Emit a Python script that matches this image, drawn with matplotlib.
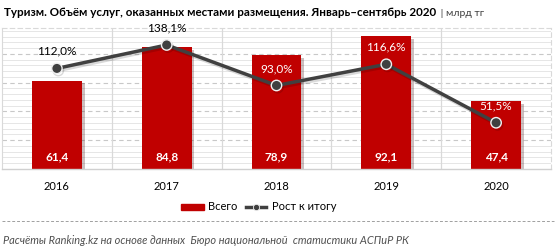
import matplotlib.pyplot as plt
import matplotlib.patheffects as pe
import numpy as np

years = ["2016", "2017", "2018", "2019", "2020"]
total = [61.4, 84.8, 78.9, 92.1, 47.4]
growth = [112.0, 138.1, 93.0, 116.6, 51.5]
growth_label_color = ["black", "black", "white", "white", "white"]

title_main = "Туризм. Объём услуг, оказанных местами размещения. Январь–сентябрь 2020"
title_unit = " | млрд тг"
source_note = "Расчёты Ranking.kz на основе данных  Бюро национальной  статистики АСПиР РК"


def fmt(v):
    return ("%.1f" % v).replace(".", ",")


def main():
    plt.rcParams['font.family'] = ['Lato', 'DejaVu Sans']
    fig = plt.figure(figsize=(5.56, 2.53), dpi=100)

    ax = fig.add_axes([2 / 556, 1 - 170 / 253, 549 / 556, 141 / 253])
    x = np.arange(len(years))

    red = "#c00000"
    dark = "#404040"

    # grid
    ax.set_ylim(0, 98)
    ax.set_xlim(-0.5, len(years) - 0.5)
    for yv in np.arange(4, 98, 4):
        if yv % 20 == 0:
            ax.axhline(yv, color="#c8c8c8", lw=0.8, ls=(0, (4, 3)), zorder=0)
        else:
            ax.axhline(yv, color="#e6e6e6", lw=0.7, zorder=0)
    for xv in np.arange(0.5, len(years) - 0.5, 1):
        ax.axvline(xv, color="#d9d9d9", lw=0.9, zorder=0)

    bars = ax.bar(x, total, width=0.455, color=red, zorder=2)
    for b in bars:
        b.set_path_effects([pe.SimplePatchShadow(offset=(2, -2), alpha=0.25), pe.Normal()])
    for i, v in enumerate(total):
        ax.text(x[i], 9, fmt(v), ha="center", va="center", color="white",
                fontsize=8.5, fontweight="bold", zorder=5)

    for s in ["top", "right", "left"]:
        ax.spines[s].set_color("#d9d9d9")
        ax.spines[s].set_linestyle((0, (4, 3)))
        ax.spines[s].set_linewidth(0.8)
    ax.spines["left"].set_linestyle("-")
    ax.spines["bottom"].set_color("#d0d0d0")
    ax.spines["bottom"].set_linewidth(1)
    ax.set_yticks([])
    ax.set_xticks(x)
    ax.set_xticklabels(years, fontsize=8)
    ax.tick_params(axis="x", length=0, pad=8)

    ax2 = ax.twinx()
    ax2.set_ylim(0, 157)
    ax2.set_yticks([])
    for s in ax2.spines.values():
        s.set_visible(False)
    ax2.plot(x, growth, color=dark, lw=2.5, marker="o", ms=7.5,
             markerfacecolor=dark, markeredgecolor="#f0f0f0", markeredgewidth=1,
             zorder=3,
             path_effects=[pe.SimpleLineShadow(offset=(1, -1.5), alpha=0.15), pe.Normal()])
    for i, v in enumerate(growth):
        ax2.annotate(fmt(v) + "%", (x[i], v), xytext=(0, 13), textcoords="offset points",
                     ha="center", va="center", fontsize=8.5,
                     color=growth_label_color[i], zorder=6)

    # legend
    fig.patches.append(plt.Rectangle((181 / 556, 1 - 211 / 253), 23 / 556, 6 / 253,
                                     transform=fig.transFigure, color=red))
    fig.text(208 / 556, 1 - 207 / 253, "Всего", fontsize=8, va="center", ha="left")
    fig.add_artist(plt.Line2D([246 / 556, 266 / 556], [1 - 208 / 253, 1 - 208 / 253],
                              transform=fig.transFigure, color=dark, lw=2.5))
    fig.add_artist(plt.Line2D([256 / 556], [1 - 208 / 253], transform=fig.transFigure,
                              color=dark, marker="o", ms=4.5, ls="none",
                              markeredgecolor="#f0f0f0", markeredgewidth=0.6))
    fig.text(272 / 556, 1 - 207 / 253, "Рост к итогу", fontsize=8, va="center", ha="left")

    # separator and source
    fig.add_artist(plt.Line2D([2 / 556, 554 / 556], [1 - 222 / 253, 1 - 222 / 253],
                              transform=fig.transFigure, color="#a0a0a0", lw=0.7,
                              ls=(0, (3, 2))))
    fig.text(3 / 556, 1 - 241 / 253, source_note, fontsize=7.9, style="italic",
             color="#505050", va="center", ha="left")

    # title
    t = fig.text(4 / 556, 1 - 13 / 253, title_main, fontsize=8.4, fontweight="bold",
                 va="center", ha="left")
    fig.canvas.draw()
    bb = t.get_window_extent()
    fig.text(bb.x1 / fig.bbox.width + 2 / 556, 1 - 13 / 253, title_unit, fontsize=7.5,
             color="#404040", va="center", ha="left")

    plt.savefig("out.png", dpi=100)


if __name__ == '__main__':
    main()
